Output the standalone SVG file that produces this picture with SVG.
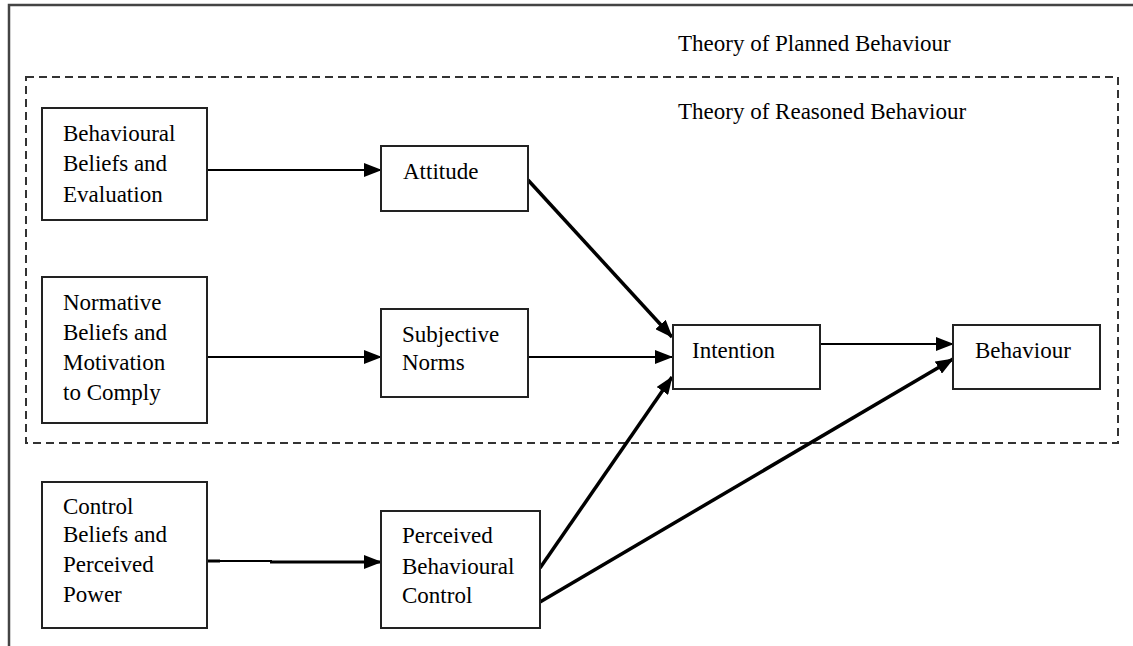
<svg xmlns="http://www.w3.org/2000/svg" width="1133" height="646" viewBox="0 0 1133 646">
<style>
text{font-family:"Liberation Serif","Times New Roman",serif;font-size:23px;fill:#000}
.box{fill:#fff;stroke:#222;stroke-width:2}
.thin{stroke:#000;stroke-width:2;fill:none}
.thick{stroke:#000;stroke-width:3.5;fill:none}
</style>
<defs>
<marker id="ah" markerUnits="userSpaceOnUse" markerWidth="18" markerHeight="14" viewBox="0 0 18 14" refX="17" refY="7" orient="auto">
<path d="M0,0 L18,7 L0,14 Z" fill="#000"/>
</marker>
</defs>
<rect width="1133" height="646" fill="#fff"/>
<g id="frame">
<path d="M1133,5 H9 V646" fill="none" stroke="#444" stroke-width="2.5"/>
<text x="678" y="51">Theory of Planned Behaviour</text>
</g>
<g id="reasoned">
<rect x="26" y="77" width="1092" height="366" fill="none" stroke="#333" stroke-width="2" stroke-dasharray="8,5"/>
<text x="678" y="119">Theory of Reasoned Behaviour</text>
</g>
<g id="connectors">
<line class="thin" x1="207" y1="170" x2="381" y2="170" marker-end="url(#ah)"/>
<line class="thin" x1="207" y1="357" x2="381" y2="357" marker-end="url(#ah)"/>
<line x1="207" y1="561" x2="220" y2="561" stroke="#000" stroke-width="3"/>
<line class="thin" x1="207" y1="561" x2="272" y2="561"/>
<line x1="270" y1="562" x2="381" y2="562" stroke="#000" stroke-width="3" marker-end="url(#ah)"/>
<line class="thick" x1="528" y1="180" x2="672" y2="337" marker-end="url(#ah)"/>
<line class="thin" x1="528" y1="357" x2="672" y2="357" marker-end="url(#ah)"/>
<line class="thick" x1="540" y1="568" x2="672" y2="377" marker-end="url(#ah)"/>
<line class="thin" x1="820" y1="344" x2="953" y2="344" marker-end="url(#ah)"/>
<line class="thick" x1="540" y1="602" x2="953" y2="359" marker-end="url(#ah)"/>
</g>
<g id="behavioural-beliefs">
<rect class="box" x="42" y="108" width="165" height="112"/>
<text x="63" y="141">Behavioural</text>
<text x="63" y="171">Beliefs and</text>
<text x="63" y="202">Evaluation</text>
</g>
<g id="normative-beliefs">
<rect class="box" x="42" y="277" width="165" height="146"/>
<text x="63" y="310">Normative</text>
<text x="63" y="340">Beliefs and</text>
<text x="63" y="370">Motivation</text>
<text x="63" y="400">to Comply</text>
</g>
<g id="control-beliefs">
<rect class="box" x="42" y="482" width="165" height="146"/>
<text x="63" y="514">Control</text>
<text x="63" y="542">Beliefs and</text>
<text x="63" y="572">Perceived</text>
<text x="63" y="602">Power</text>
</g>
<g id="attitude">
<rect class="box" x="381" y="146" width="147" height="65"/>
<text x="403" y="179">Attitude</text>
</g>
<g id="subjective-norms">
<rect class="box" x="381" y="309" width="147" height="88"/>
<text x="402" y="342">Subjective</text>
<text x="402" y="370">Norms</text>
</g>
<g id="pbc">
<rect class="box" x="381" y="511" width="159" height="117"/>
<text x="402" y="543">Perceived</text>
<text x="402" y="574">Behavioural</text>
<text x="402" y="603">Control</text>
</g>
<g id="intention">
<rect class="box" x="673" y="325" width="147" height="64"/>
<text x="692" y="358">Intention</text>
</g>
<g id="behaviour">
<rect class="box" x="953" y="325" width="147" height="64"/>
<text x="975" y="358">Behaviour</text>
</g>
</svg>
